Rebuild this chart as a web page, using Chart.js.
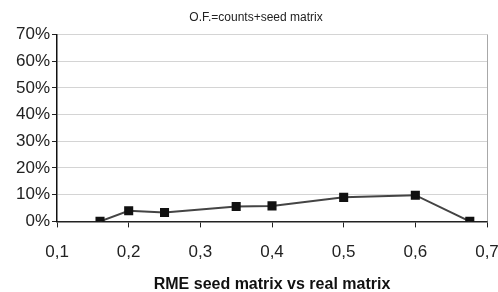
<!DOCTYPE html>
<html>
<head>
<meta charset="utf-8">
<script src="https://cdn.jsdelivr.net/npm/chart.js@4.4.0/dist/chart.umd.min.js"></script>
<style>
  html, body { margin: 0; padding: 0; background: #fff; }
  #wrap { width: 498px; height: 292px; }
</style>
</head>
<body>
<div id="wrap"><canvas id="chart"></canvas></div>
<script>
// RME (x) and objective share (y, in %)
const rmeValues = [0.16, 0.2, 0.25, 0.35, 0.4, 0.5, 0.6, 0.676];
const ofPercent = [0, 4.0, 3.3, 5.6, 5.8, 9.0, 9.8, 0];
const xTicks = [0.1, 0.2, 0.3, 0.4, 0.5, 0.6, 0.7];
const yTicks = [0, 10, 20, 30, 40, 50, 60, 70];

const points = rmeValues.map((x, i) => ({ x: x, y: ofPercent[i] }));

// grey right border of the plot area
const frame = {
  id: "frame",
  beforeDatasetsDraw(chart) {
    const { ctx, chartArea } = chart;
    ctx.save();
    ctx.strokeStyle = "#a8a8a8";
    ctx.lineWidth = 1;
    ctx.beginPath();
    ctx.moveTo(chartArea.right + 0.5, chartArea.top);
    ctx.lineTo(chartArea.right + 0.5, chartArea.bottom);
    ctx.stroke();
    ctx.restore();
  },
};

Chart.defaults.font.family = "'Liberation Sans', Arial, sans-serif";
Chart.defaults.color = "#222";

new Chart(document.getElementById("chart"), {
  type: "line",
  data: {
    datasets: [
      {
        data: points,
        borderColor: "#444",
        borderWidth: 2,
        backgroundColor: "#111",
        pointStyle: "rect",
        pointRadius: 5,
        pointBorderColor: "#111",
        pointBackgroundColor: "#111",
        tension: 0,
      },
    ],
  },
  options: {
    responsive: true,
    maintainAspectRatio: false,
    animation: false,
    layout: { padding: { left: 14, right: 0, top: 10, bottom: -2 } },
    plugins: {
      legend: { display: false },
      tooltip: { enabled: false },
      title: {
        display: true,
        text: "O.F.=counts+seed matrix",
        font: { size: 12, weight: "normal" },
        color: "#222",
        padding: { top: 0, bottom: 10 },
      },
    },
    scales: {
      x: {
        type: "linear",
        min: 0.1,
        max: 0.7,
        afterBuildTicks(scale) {
          scale.ticks = xTicks.map((v) => ({ value: v }));
        },
        afterFit(scale) {
          // let the last label run to the canvas edge, as in the original
          scale.paddingRight = 11;
        },
        ticks: {
          font: { size: 17 },
          color: "#222",
          padding: 15,
          callback: (v) => v.toFixed(1).replace(".", ","),
        },
        grid: {
          drawOnChartArea: false,
          drawTicks: true,
          tickLength: 6,
          tickColor: "#222",
        },
        border: { color: "#222", width: 1.5 },
        title: {
          display: true,
          text: "RME seed matrix vs real matrix",
          font: { size: 16, weight: "bold" },
          color: "#111",
          padding: { top: -3, bottom: 0 },
        },
      },
      y: {
        min: 0,
        max: 70,
        afterBuildTicks(scale) {
          scale.ticks = yTicks.map((v) => ({ value: v }));
        },
        ticks: {
          font: { size: 17 },
          color: "#222",
          padding: 2,
          callback: (v) => v + "%",
        },
        grid: {
          color: "#d4d4d4",
          lineWidth: 1,
          tickLength: 5,
          tickColor: "#222",
        },
        border: { color: "#111", width: 1.5 },
      },
    },
  },
  plugins: [frame],
});
</script>
</body>
</html>
